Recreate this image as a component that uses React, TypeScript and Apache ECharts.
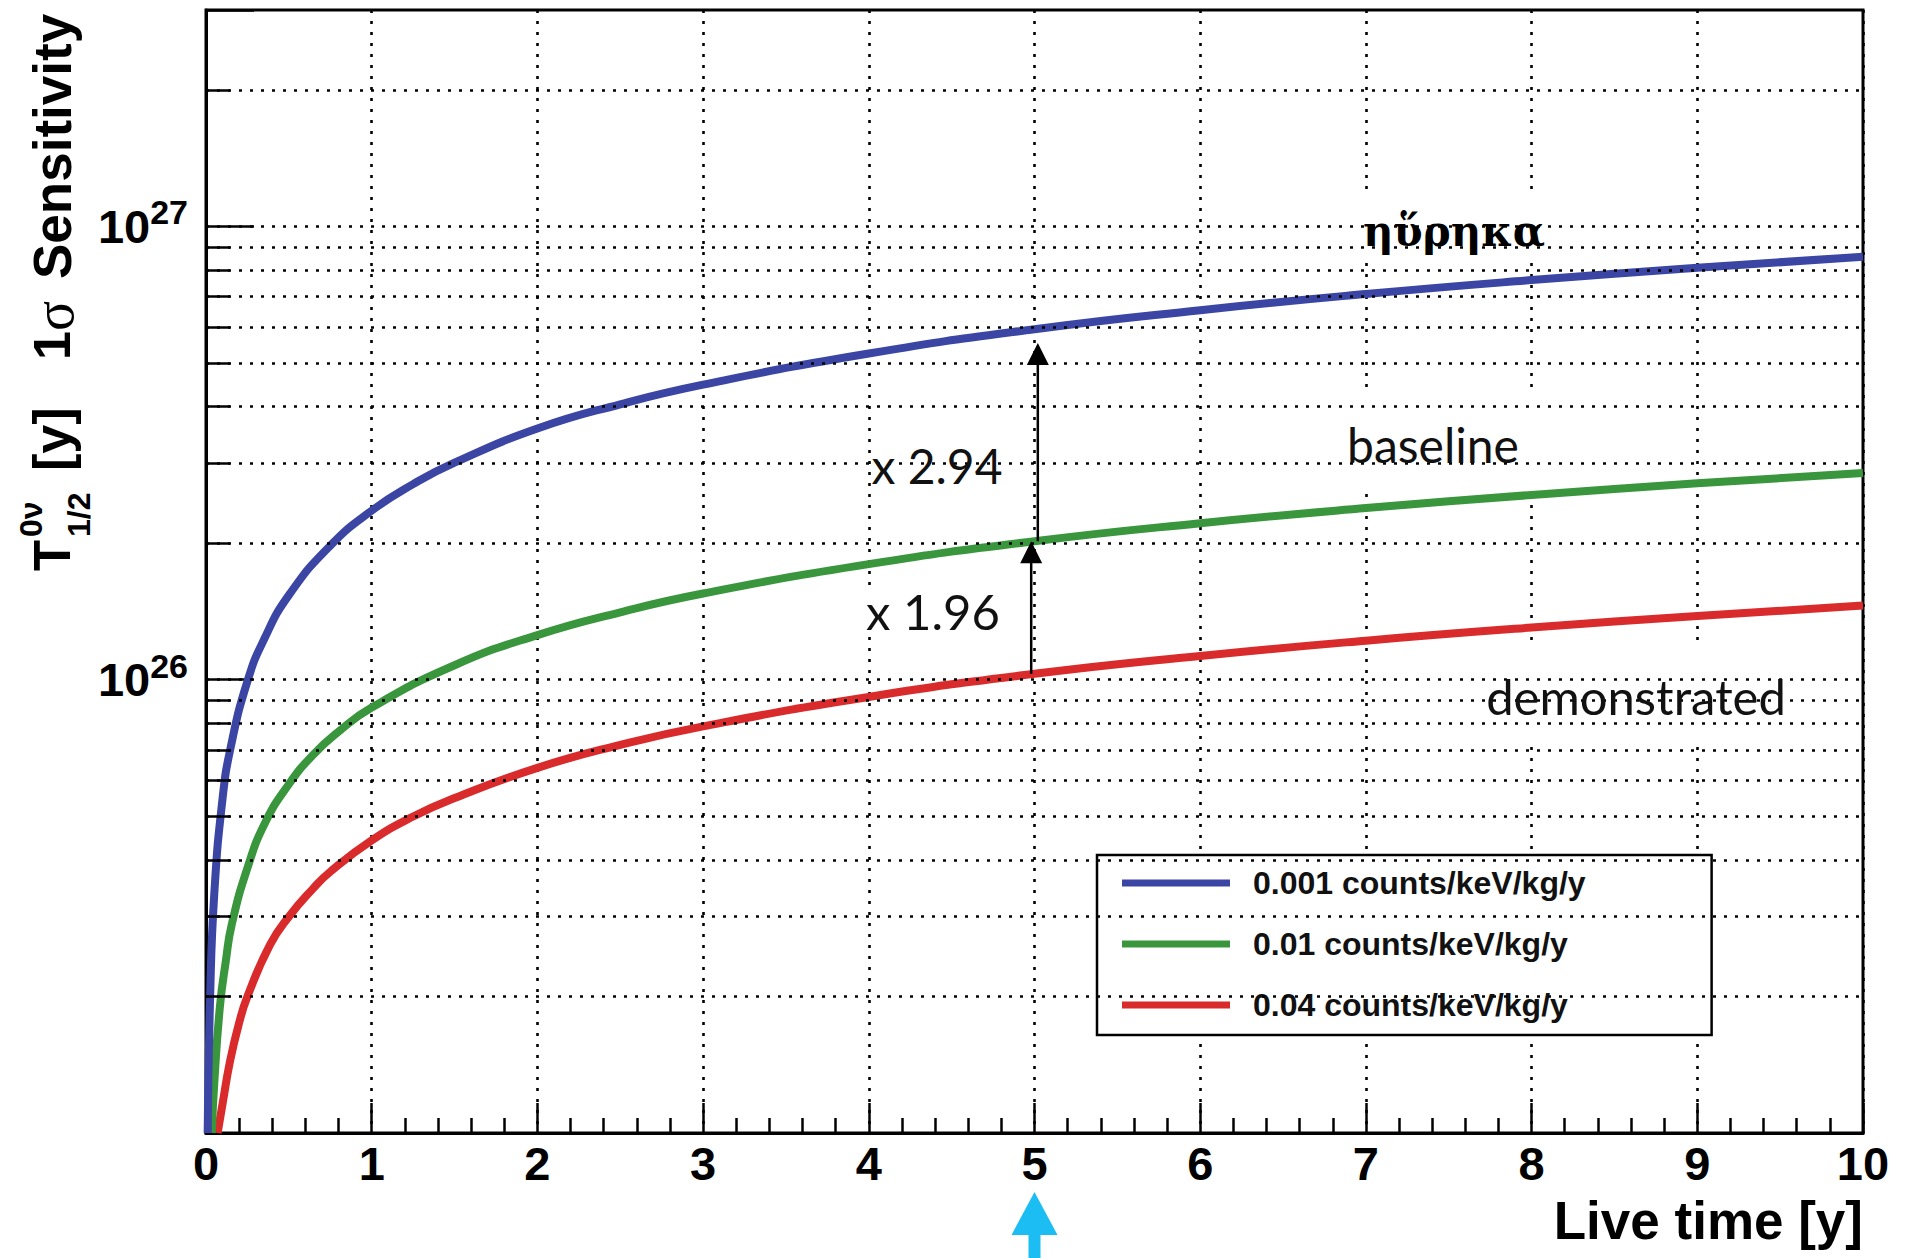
import React, { useEffect, useRef } from "react";
import * as echarts from "echarts";

// ---------- data ----------
const seriesNames = ["0.001 counts/keV/kg/y", "0.01 counts/keV/kg/y", "0.04 counts/keV/kg/y"];
const seriesColors = ["#3A45A4", "#3A963D", "#D92B2B"];

const blueTime = [0.01, 0.025, 0.05, 0.1, 0.15, 0.25, 0.35, 0.5, 0.75, 1, 1.25, 1.5, 2, 2.5, 3, 4, 5, 6, 7, 8, 9, 10];
const blueSens = [1.0e25, 2.0e25, 3.37e25, 5.47e25, 7.12e25, 9.92e25, 1.226e26, 1.536e26, 1.975e26, 2.36e26, 2.7e26, 3.01e26, 3.58e26, 4.05e26, 4.475e26, 5.24e26, 5.93e26, 6.53e26, 7.09e26, 7.61e26, 8.1e26, 8.57e26];

const greenTime = [0.035, 0.05, 0.084, 0.12, 0.155, 0.25, 0.356, 0.5, 0.647, 0.8, 1, 1.5, 2, 2.5, 3, 4, 5, 6, 7, 8, 9, 10];
const greenSens = [1.0e25, 1.29e25, 1.9e25, 2.4e25, 2.88e25, 3.84e25, 4.83e25, 5.88e25, 6.83e25, 7.68e25, 8.68e25, 1.076e26, 1.254e26, 1.408e26, 1.549e26, 1.798e26, 2.02e26, 2.213e26, 2.39e26, 2.555e26, 2.71e26, 2.857e26];

const redTime = [0.07, 0.1, 0.145, 0.2, 0.25, 0.386, 0.5, 0.646, 0.75, 1, 1.25, 1.5, 2, 2.5, 3, 4, 5, 6, 7, 8, 9, 10];
const redSens = [1.0e25, 1.16e25, 1.44e25, 1.75e25, 2.0e25, 2.6e25, 3.0e25, 3.46e25, 3.77e25, 4.42e25, 4.99e25, 5.48e25, 6.39e25, 7.18e25, 7.89e25, 9.16e25, 1.03e26, 1.128e26, 1.219e26, 1.303e26, 1.382e26, 1.457e26];

const xMin = 0;
const xMax = 10;
const yMin = 1e25;
const yMax = 3e27;
const yLabelExponents = [26, 27];
const yMajorGrid = [1e26, 1e27];
const yMinorGrid = [2e25, 3e25, 4e25, 5e25, 6e25, 7e25, 8e25, 9e25, 2e26, 3e26, 4e26, 5e26, 6e26, 7e26, 8e26, 9e26, 2e27];

const arrowTime = [4.98, 5.02];
const arrowFrom = [1.03e26, 2.02e26];
const arrowTo = [2.02e26, 5.53e26];
const factorLabels = ["x 1.96", "x 2.94"];
const markedYear = 5;

const curveLabels = ["ηὕρηκα", "baseline", "demonstrated"];

// ---------- helpers ----------
const zip = (t: number[], s: number[]) => t.map((v, i) => [v, s[i]]);
const HELV = '"Liberation Sans", Arial, Helvetica, sans-serif';
const GILL = 'Lato, "Open Sans", sans-serif';

const renderArrows = (_params: any, api: any) => {
  const base = api.coord([api.value(0), api.value(1)]);
  const tip = api.coord([api.value(0), api.value(2)]);
  const hl = 22;
  const hw = 11;
  return {
    type: "group",
    children: [
      { type: "line", shape: { x1: base[0], y1: base[1], x2: tip[0], y2: tip[1] + hl - 2 }, style: { stroke: "#000", lineWidth: 2.5 } },
      { type: "polygon", shape: { points: [[tip[0], tip[1]], [tip[0] - hw, tip[1] + hl], [tip[0] + hw, tip[1] + hl]] }, style: { fill: "#000" } },
    ],
  };
};

const renderMarker = (_params: any, api: any) => {
  const p = api.coord([api.value(0), api.value(1)]);
  const x = p[0];
  const y0 = p[1];
  const c = "#1BBDF2";
  return {
    type: "group",
    children: [
      { type: "rect", shape: { x: x - 6, y: y0 + 98, width: 12, height: 40 }, style: { fill: c } },
      { type: "polygon", shape: { points: [[x, y0 + 59], [x - 23, y0 + 102], [x + 23, y0 + 102]] }, style: { fill: c } },
    ],
  };
};

const whiteBox = (x: number, y: number, w: number, h: number) => ({
  type: "rect",
  z: 2,
  silent: true,
  shape: { x, y, width: w, height: h },
  style: { fill: "#fff" },
});

const txt = (text: string, x: number, y: number, font: any, extra: any = {}) => ({
  type: "text",
  z: 6,
  silent: true,
  x,
  y,
  style: {
    text,
    fill: "#111",
    align: "center",
    textAlign: "center",
    verticalAlign: "middle",
    textVerticalAlign: "middle",
    ...font,
    ...extra,
  },
});

export default function App() {
  const ref = useRef<HTMLDivElement>(null);

  useEffect(() => {
    if (!ref.current) return;
    const chart = echarts.init(ref.current, undefined, { renderer: "svg" });

    const curveData = [zip(blueTime, blueSens), zip(greenTime, greenSens), zip(redTime, redSens)];
    const minorTickLen = 0.145;
    const left = { align: "left", textAlign: "left" };
    const right = { align: "right", textAlign: "right" };

    const option: any = {
      animation: false,
      backgroundColor: "#fff",
      grid: {
        left: 206,
        top: 10,
        right: 58,
        bottom: 125,
        show: true,
        borderColor: "#000",
        borderWidth: 3,
        backgroundColor: "transparent",
        containLabel: false,
        outerBoundsMode: "none",
      },
      legend: {
        orient: "vertical",
        left: 1097,
        top: 855,
        data: seriesNames,
        icon: "rect",
        itemWidth: 108,
        itemHeight: 7,
        itemGap: 29,
        padding: [12, 126, 14, 25],
        backgroundColor: "#fff",
        borderColor: "#000",
        borderWidth: 2.5,
        borderRadius: 0,
        selectedMode: false,
        textStyle: {
          fontFamily: HELV,
          fontWeight: "bold",
          fontSize: 32,
          lineHeight: 32,
          color: "#111",
          padding: [0, 0, 0, 18],
        },
      },
      xAxis: {
        type: "value",
        min: xMin,
        max: xMax,
        interval: 1,
        axisLine: { show: true, onZero: false, lineStyle: { color: "#000", width: 3 } },
        axisTick: { show: true, inside: true, length: 30, lineStyle: { color: "#000", width: 2.5 } },
        minorTick: { show: true, splitNumber: 5, length: 15, lineStyle: { color: "#000", width: 2.5 } },
        splitLine: { show: true, lineStyle: { color: "#000", width: 2.6, type: [3, 8] } },
        axisLabel: {
          show: true,
          margin: 7,
          color: "#000",
          fontFamily: HELV,
          fontWeight: "bold",
          fontSize: 47,
          formatter: (v: number) => String(Math.round(v)),
        },
      },
      yAxis: {
        type: "log",
        logBase: 10,
        min: yMin,
        max: yMax,
        axisLine: { show: true, onZero: false, lineStyle: { color: "#000", width: 3 } },
        axisTick: { show: true, inside: true, length: 48, lineStyle: { color: "#000", width: 2.5 } },
        splitLine: { show: false },
        minorTick: { show: false },
        axisLabel: {
          show: true,
          margin: 18,
          color: "#000",
          formatter: (v: number) => {
            const e = Math.round(Math.log10(v));
            if (Math.abs(v / Math.pow(10, e) - 1) < 1e-6 && yLabelExponents.includes(e)) {
              return "{b|10}{s|" + e + "}";
            }
            return "";
          },
          rich: {
            b: { fontFamily: HELV, fontWeight: "bold", fontSize: 47, lineHeight: 62, verticalAlign: "middle", color: "#000" },
            s: { fontFamily: HELV, fontWeight: "bold", fontSize: 34, verticalAlign: "top", color: "#000" },
          },
        },
      },
      series: [
        {
          name: "gridlines",
          type: "line",
          data: [[xMin, yMin]],
          symbol: "none",
          showSymbol: false,
          lineStyle: { width: 0 },
          silent: true,
          z: 1,
          markLine: {
            silent: true,
            animation: false,
            symbol: ["none", "none"],
            label: { show: false },
            emphasis: { disabled: true },
            lineStyle: { type: [3, 8], width: 2.6, color: "#000" },
            data: [...yMinorGrid, ...yMajorGrid].map((v) => ({ yAxis: v })),
          },
        },
        {
          name: "minorticks",
          type: "line",
          data: [[xMin, yMin]],
          symbol: "none",
          showSymbol: false,
          lineStyle: { width: 0 },
          silent: true,
          z: 1,
          markLine: {
            silent: true,
            animation: false,
            symbol: ["none", "none"],
            label: { show: false },
            emphasis: { disabled: true },
            lineStyle: { type: "solid", width: 2.5, color: "#000" },
            data: yMinorGrid.map((v) => [{ coord: [xMin, v] }, { coord: [xMin + minorTickLen, v] }]),
          },
        },
        ...seriesNames.map((name, i) => ({
          name,
          type: "line",
          data: curveData[i],
          smooth: 0.5,
          symbol: "none",
          showSymbol: false,
          color: seriesColors[i],
          itemStyle: { color: seriesColors[i] },
          lineStyle: { color: seriesColors[i], width: 8 },
          z: 3 + (2 - i) * 0.1,
          silent: true,
        })),
        {
          name: "ratios",
          type: "custom",
          renderItem: renderArrows,
          data: arrowTime.map((t, i) => [t, arrowFrom[i], arrowTo[i]]),
          encode: { x: 0, y: [1, 2] },
          z: 5,
          silent: true,
        },
        {
          name: "marker",
          type: "custom",
          renderItem: renderMarker,
          data: [[markedYear, yMin]],
          clip: false,
          z: 5,
          silent: true,
        },
      ],
      graphic: {
        elements: [
          whiteBox(1345, 195, 212, 67),
          whiteBox(1316, 387, 237, 100),
          whiteBox(1458, 648, 359, 95),
          whiteBox(874, 438, 134, 50),
          whiteBox(868, 586, 132, 46),
          txt(curveLabels[0], 1454, 231, { fontFamily: '"DejaVu Serif", serif', fontWeight: "bold", fontSize: 42, fill: "#000" }),
          txt(curveLabels[1], 1433, 444, { fontFamily: GILL, fontSize: 48 }),
          txt(curveLabels[2], 1636, 696, { fontFamily: GILL, fontSize: 49 }),
          txt(factorLabels[1], 937, 465, { fontFamily: GILL, fontSize: 48 }),
          txt(factorLabels[0], 933, 611, { fontFamily: GILL, fontSize: 49 }),
          txt("Live time [y]", 1863, 1220, { fontFamily: HELV, fontWeight: "bold", fontSize: 53, fill: "#000" }, right),
          {
            type: "group",
            x: 52,
            y: 571,
            rotation: Math.PI / 2,
            silent: true,
            z: 6,
            children: [
              txt("T", 0, 0, { fontFamily: HELV, fontWeight: "bold", fontSize: 51, fill: "#000" }, left),
              txt("0ν", 34, -21, { fontFamily: HELV, fontWeight: "bold", fontSize: 32, fill: "#000" }, left),
              txt("1/2", 34, 27, { fontFamily: HELV, fontWeight: "bold", fontSize: 32, fill: "#000" }, left),
              txt("[y]", 100, 0, { fontFamily: HELV, fontWeight: "bold", fontSize: 52, fill: "#000" }, left),
              txt("1", 211, 0, { fontFamily: HELV, fontWeight: "bold", fontSize: 52, fill: "#000" }, left),
              txt("σ", 240, 2, { fontFamily: '"Liberation Serif", serif', fontSize: 56, fill: "#000" }, left),
              txt("Sensitivity", 292, 0, { fontFamily: HELV, fontWeight: "bold", fontSize: 53, fill: "#000" }, left),
            ],
          },
        ],
      },
    };

    chart.setOption(option);
    return () => {
      chart.dispose();
    };
  }, []);

  return (
    <div
      ref={ref}
      style={{ position: "fixed", left: 0, top: 0, width: 1921, height: 1258, background: "#fff" }}
    />
  );
}
